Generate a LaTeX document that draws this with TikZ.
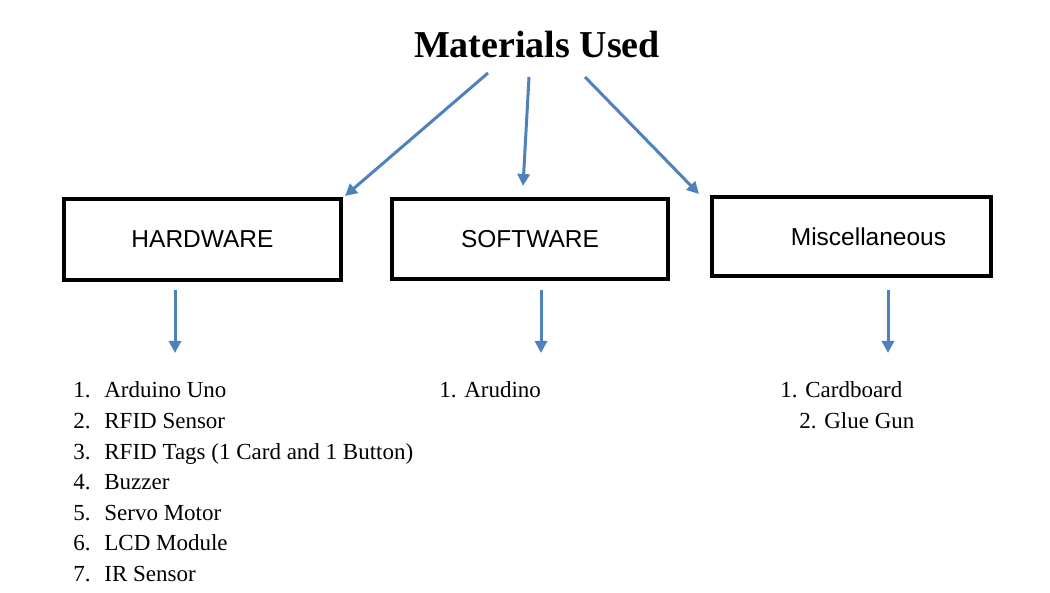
\documentclass[tikz,border=0pt]{standalone}
\usepackage{fontspec}
\setmainfont{Liberation Serif}
\newfontfamily\boxfont{Liberation Sans}
\usepackage{tikz}
\usetikzlibrary{arrows.meta}
\definecolor{ArrowBlue}{HTML}{4F81BD}
\tikzset{
  matbox/.style={draw=black,line width=2pt,minimum width=138.5pt,minimum height=40.5pt,inner sep=0pt,font=\boxfont\fontsize{12.25}{15}\selectfont},
  matarrow/.style={->,line width=1.5pt,color=ArrowBlue},
  matitem/.style={anchor=base west,inner sep=0pt,font=\fontsize{11.5}{14}\selectfont}
}
\newcommand{\itemno}[1]{\makebox[15.5pt][l]{#1}}

\begin{document}
\begin{tikzpicture}[>={Triangle[width=6pt,length=6pt]},x=0.5pt,y=-0.5pt]
\useasboundingbox (0,0) rectangle (1050,593);
% title and the three groups
\node[anchor=base,inner sep=0pt,font=\fontsize{19}{23}\selectfont\bfseries] (title) at (537,58) {Materials Used};
\node[matbox] (hardware) at (202.5,239.5) {HARDWARE};
\node[matbox,minimum width=138pt,minimum height=40pt] (software) at (530,239) {SOFTWARE};
\node[matbox,minimum width=139.5pt,minimum height=39.5pt] (misc) at (851.5,236.5) {\hspace*{17pt}Miscellaneous};
% arrow ends
\coordinate (hwtop) at (488,73);
\coordinate (hwend) at (345,196);
\coordinate (swtop) at (529,77);
\coordinate (swend) at (523,186);
\coordinate (mitop) at (585,77);
\coordinate (miend) at (699,194);
\coordinate (hwlist) at (175,353);
\coordinate (swlist) at (541,353);
\coordinate (milist) at (888,353);
\draw [matarrow] (hwtop) -- (hwend);
\draw [matarrow] (swtop) -- (swend);
\draw [matarrow] (mitop) -- (miend);
\draw [matarrow] (hardware.south -| hwlist) ++(0,8) -- (hwlist);
\draw [matarrow] (software.south -| swlist) ++(0,9) -- (swlist);
\draw [matarrow] (misc.south -| milist) ++(0,12) -- (milist);
% hardware list
\node[matitem] (hw1) at (73,398) {\itemno{1.}Arduino Uno};
\node[matitem] (hw2) at (73,428.5) {\itemno{2.}RFID Sensor};
\node[matitem] (hw3) at (73,459) {\itemno{3.}RFID Tags (1 Card and 1 Button)};
\node[matitem] (hw4) at (73,489.5) {\itemno{4.}Buzzer};
\node[matitem] (hw5) at (73,520) {\itemno{5.}Servo Motor};
\node[matitem] (hw6) at (73,550.5) {\itemno{6.}LCD Module};
\node[matitem] (hw7) at (73,581) {\itemno{7.}IR Sensor};
% software list
\node[matitem] (sw1) at (439,398) {1. Arudino};
% miscellaneous list
\node[matitem] (mi1) at (780,398) {1. Cardboard};
\node[matitem] (mi2) at (799,428.5) {2. Glue Gun};
\end{tikzpicture}
\end{document}
